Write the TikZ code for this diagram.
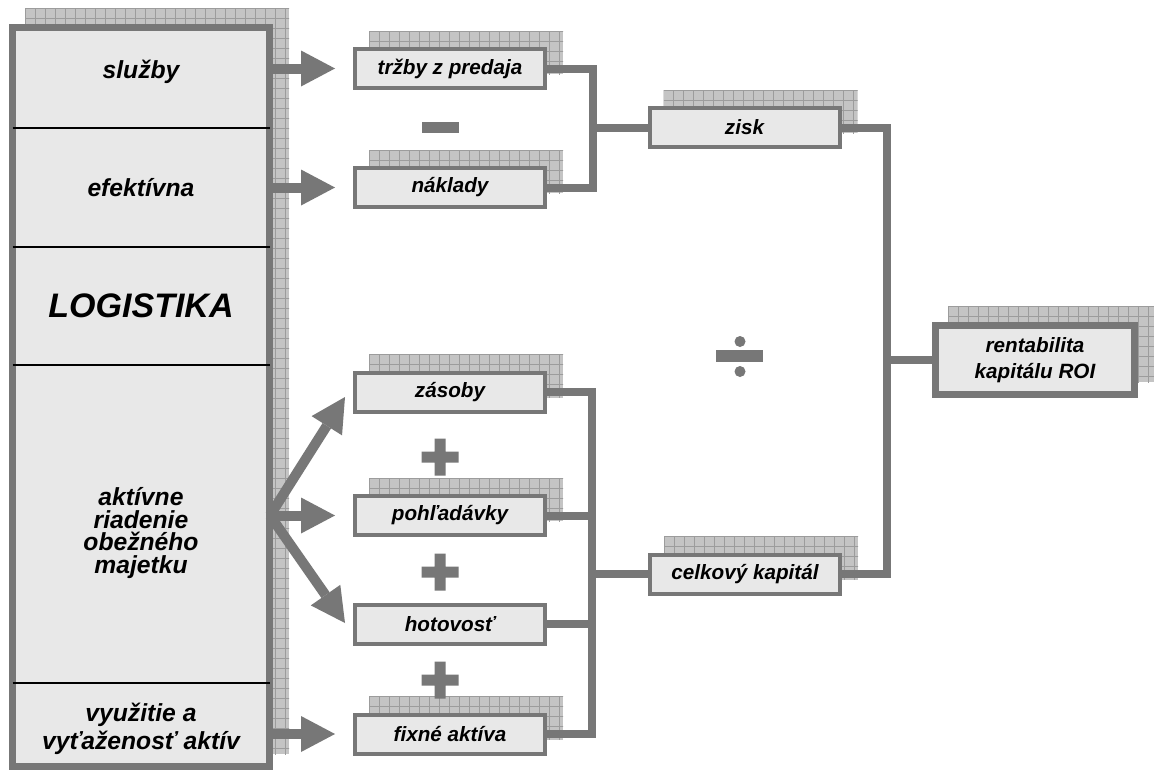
\documentclass[tikz,border=0pt]{standalone}
\usepackage{fontspec}
\setmainfont{Liberation Sans}
\usetikzlibrary{arrows.meta,calc,backgrounds}

\definecolor{frame}{HTML}{777777}
\definecolor{boxfill}{HTML}{E8E8E8}
\definecolor{shadefill}{HTML}{C4C4C4}
\definecolor{shadegrid}{HTML}{9C9C9C}

\newcommand{\lblfont}{\fontsize{15.5}{20}\selectfont\bfseries\itshape}
\newcommand{\sidefont}{\fontsize{18.5}{20.5}\selectfont\bfseries\itshape}

% hatched drop shadow behind a node, shifted up and to the right
\newcommand{\gridshadow}[1]{%
  \begin{scope}
    \path ($(#1.north west)+(16,-16)$) coordinate (sA)
          ($(#1.south east)+(16,-16)$) coordinate (sB);
    \clip (sA) rectangle (sB);
    \fill[shadefill] (sA) rectangle (sB);
    \foreach \k in {0,10,...,780} {
      \draw[shadegrid,line width=0.5pt] ($(sA)+(\k,0)$) -- ++(0,800);
      \draw[shadegrid,line width=0.5pt] ($(sA)+(0,\k)$) -- ++(300,0);
    }
  \end{scope}}

% plus operator centred at (#1,#2)
\newcommand{\plussign}[2]{%
  \fill[frame] (#1-18.5,#2-5.5) rectangle (#1+18.5,#2+5.5)
               (#1-5.5,#2-18.5) rectangle (#1+5.5,#2+18.5);}

\tikzset{
  every node/.style={font=\lblfont, text=black},
  smallbox/.style={draw=frame, fill=boxfill, line width=3pt,
    minimum width=142.5pt, minimum height=29.25pt, inner sep=2pt, align=center},
  bigbox/.style={draw=frame, fill=boxfill, line width=5.25pt,
    minimum width=149.25pt, minimum height=51.75pt, inner sep=2pt, align=center},
  sidebox/.style={draw=frame, fill=boxfill, line width=5.25pt,
    minimum width=192.75pt, minimum height=554.25pt},
  sidelabel/.style={align=center, inner sep=0pt, font=\sidefont},
  divider/.style={draw=black, line width=1.1pt},
  conn/.style={draw=frame, line width=6pt},
  blockarrow/.style={draw=frame, line width=7.5pt,
    -{Triangle[width=27pt,length=25.5pt,line width=0pt]}},
}

\begin{document}
\begin{tikzpicture}[x=0.75pt,y=-0.75pt]
\useasboundingbox (0,0) rectangle (1154,771);

% left column
\node[sidebox] (L) at (141,397) {};
\draw[divider] (12.5,128) -- (269.5,128);
\draw[divider] (12.5,247) -- (269.5,247);
\draw[divider] (12.5,365) -- (269.5,365);
\draw[divider] (12.5,683) -- (269.5,683);

\node[sidelabel] (sluzby) at (141,72) {služby};
\node[sidelabel] (efekt) at (141,188) {efektívna};
\node[sidelabel, font=\fontsize{25.5}{30}\selectfont\bfseries\itshape] (logist) at (141,306) {LOGISTIKA};
\node[sidelabel, font=\fontsize{18.5}{17.2}\selectfont\bfseries\itshape] (aktiv) at (141,533)
  {aktívne\\riadenie\\obežného\\majetku};
\node[sidelabel] (vyuz) at (141,729) {využitie a\\vyťaženosť aktív};

% middle column
\node[smallbox] (trz) at (450,68.5) {tržby z predaja};
\node[smallbox] (nak) at (450,187.5) {náklady};
\node[smallbox] (zas) at (450,392) {zásoby};
\node[smallbox] (pohl) at (450,515.5) {pohľadávky};
\node[smallbox] (hot) at (450,624) {hotovosť};
\node[smallbox] (fix) at (450,734) {fixné aktíva};

% right columns
\node[smallbox] (zisk) at (744.5,127.5) {zisk};
\node[smallbox] (celk) at (745,574) {celkový kapitál};
\node[bigbox] (roi) at (1035,360) {rentabilita\\kapitálu ROI};

% operators
\fill[frame] (422,122) rectangle (459,133);
\plussign{440}{457}
\plussign{440}{572}
\plussign{440}{680}
\fill[frame] (740,341.5) circle[radius=5.5];
\fill[frame] (716,350) rectangle (763,362);
\fill[frame] (740,371.5) circle[radius=5.5];

% arrows out of the left column
\draw[blockarrow] (L.east |- trz) -- ($(trz.west)+(-18,0)$);
\draw[blockarrow] (L.east |- nak) -- ($(nak.west)+(-18,0)$);
\draw[blockarrow] (L.east |- fix) -- ($(fix.west)+(-18,0)$);
\coordinate (fan) at ($(L.east |- pohl)+(-3,0)$);
\draw[blockarrow] (fan) -- ($(zas.west)+(-8,5)$);
\draw[blockarrow] (fan) -- ($(pohl.west)+(-18,0)$);
\draw[blockarrow] (fan) -- ($(hot.west)+(-8,-1)$);

% bracket connectors
\coordinate (j1) at (593,127.5);
\draw[conn] (trz.east) -| (j1) |- (nak.east);
\draw[conn] (j1) -- (zisk.west);

\coordinate (j2) at (592,574);
\draw[conn] (zas.east) -| (j2) |- (fix.east);
\draw[conn] (pohl.east) -- (pohl.east -| j2);
\draw[conn] (hot.east) -- (hot.east -| j2);
\draw[conn] (j2) -- (celk.west);

\coordinate (j3) at (887,360);
\draw[conn] (zisk.east) -| (j3) |- (celk.east);
\draw[conn] (j3) -- (roi.west);

% page background and shadows
\begin{pgfonlayer}{background}
  \fill[white] (0,0) rectangle (1154,771);
  \gridshadow{L}
  \gridshadow{trz}
  \gridshadow{nak}
  \gridshadow{zas}
  \gridshadow{pohl}
  \gridshadow{fix}
  \gridshadow{zisk}
  \gridshadow{celk}
  \gridshadow{roi}
\end{pgfonlayer}
\end{tikzpicture}
\end{document}
